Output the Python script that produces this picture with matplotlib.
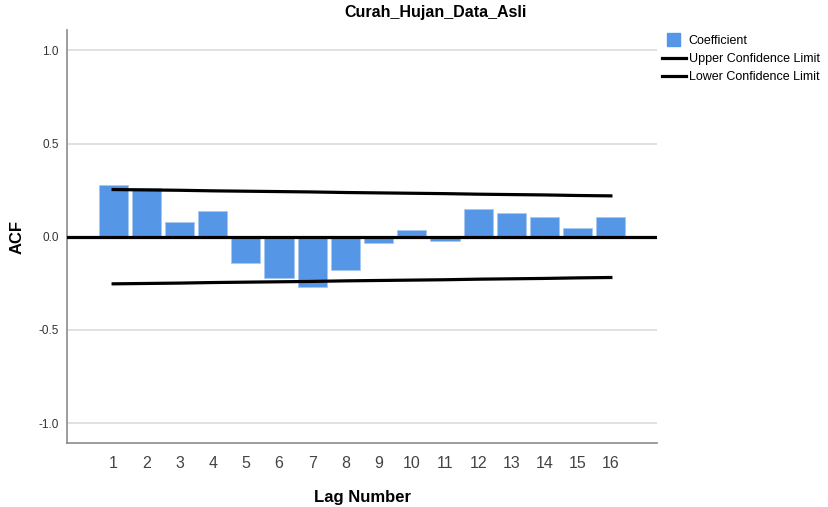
import matplotlib.pyplot as plt
from matplotlib.patches import Patch, Rectangle
from matplotlib.lines import Line2D
from matplotlib.legend_handler import HandlerPatch

plt.rcParams['font.family'] = ['Liberation Sans', 'DejaVu Sans']

lags = list(range(1, 17))
acf = [0.279, 0.262, 0.081, 0.139, -0.142, -0.222, -0.268, -0.177,
       -0.034, 0.037, -0.023, 0.147, 0.125, 0.107, 0.046, 0.104]
upper = [0.253, 0.251, 0.249, 0.246, 0.244, 0.242, 0.240, 0.237,
         0.235, 0.233, 0.231, 0.228, 0.226, 0.224, 0.221, 0.219]
lower = [-v for v in upper]


def square_patch(legend, orig_handle, xdescent, ydescent, width, height, fontsize):
    side = height * 1.25
    return Rectangle((width / 2 - side / 2 - xdescent, height / 2 - side / 2 - ydescent), side, side)


fig = plt.figure(figsize=(8.29, 5.07), dpi=100)
ax = fig.add_axes([67 / 829, 1 - 443 / 507, 590 / 829, 413 / 507])

bar_color = "#5597e6"
ax.bar(lags, acf, width=0.88, color=bar_color, edgecolor="#a9c8f0", linewidth=0.6, zorder=2)
ax.plot(lags, upper, color="black", lw=2.3, zorder=3)
ax.plot(lags, lower, color="black", lw=2.3, zorder=3)
ax.axhline(0, color="black", lw=2.3, zorder=3)

ax.set_xlim(-0.39, 17.39)
ax.set_ylim(-1.107, 1.109)
ax.set_yticks([-1.0, -0.5, 0.0, 0.5, 1.0])
ax.set_yticklabels(["-1.0", "-0.5", "0.0", "0.5", "1.0"])
ax.set_xticks(lags)
ax.set_xticklabels([str(l) for l in lags])
ax.grid(axis="y", color="#dcdcdc", lw=1.2, zorder=0)
ax.tick_params(axis="y", length=0, labelsize=8.5, labelcolor="#333333", pad=6)
ax.tick_params(axis="x", length=0, labelsize=11.5, labelcolor="#444444", pad=9)

for s in ["top", "right"]:
    ax.spines[s].set_visible(False)
for s in ["left", "bottom"]:
    ax.spines[s].set_color("#8c8c8c")
    ax.spines[s].set_linewidth(1.2)

ax.set_xlabel("Lag Number", fontsize=12, fontweight="bold", labelpad=14)
ax.set_ylabel("ACF", fontsize=12, fontweight="bold")
ax.yaxis.set_label_coords((25 - 67) / 590, 0.5)
fig.text(436 / 829, 1 - 13 / 507, "Curah_Hujan_Data_Asli", ha="center", va="center",
         fontsize=11.5, fontweight="bold")

handles = [Patch(facecolor=bar_color, edgecolor=bar_color),
           Line2D([], [], color="black", lw=2.3),
           Line2D([], [], color="black", lw=2.3)]
labels = ["Coefficient", "Upper Confidence Limit", "Lower Confidence Limit"]
fig.legend(handles, labels, loc="upper left", bbox_to_anchor=(653 / 829, 1 - 26 / 507),
           frameon=False, fontsize=9, handlelength=1.9, handleheight=0.9,
           labelspacing=0.45, handletextpad=0.25, borderpad=0.2,
           handler_map={Patch: HandlerPatch(patch_func=square_patch)})

fig.savefig("out.png", dpi=100)
